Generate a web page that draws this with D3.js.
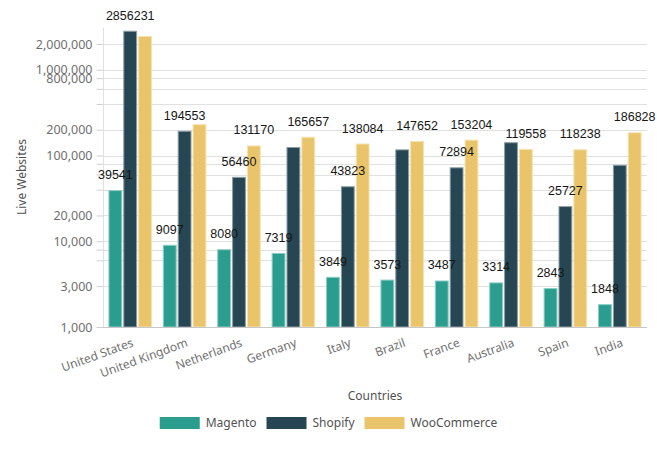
<!DOCTYPE html>
<html><head><meta charset="utf-8">
<script src="https://cdn.jsdelivr.net/npm/d3@7"></script>
<style>
body{margin:0;background:#fff;}
svg{display:block;}
</style></head>
<body><svg id="chart" width="657" height="450"></svg>
<script>
const countries = ["United States","United Kingdom","Netherlands","Germany","Italy","Brazil","France","Australia","Spain","India"];
const seriesNames = ["Magento","Shopify","WooCommerce"];
const magento = [39541, 9097, 8080, 7319, 3849, 3573, 3487, 3314, 2843, 1848];
const shopify = [2856231, 194553, 56460, 126000, 43823, 118000, 72894, 143000, 25727, 78000];
const woocommerce = [2480000, 232000, 131170, 165657, 138084, 147652, 153204, 119558, 118238, 186828];
const gridTicks = [1000, 3000, 6000, 8000, 10000, 20000, 40000, 60000, 80000, 100000, 200000, 400000, 600000, 800000, 1000000, 2000000];
const labeledTicks = [1000, 3000, 10000, 20000, 100000, 200000, 800000, 1000000, 2000000];
const hiddenLabels = ["United States|WooCommerce","United Kingdom|WooCommerce","Germany|Shopify","Brazil|Shopify","Australia|Shopify","India|Shopify"];

const colors = {Magento:"#2a9d8f", Shopify:"#264653", WooCommerce:"#e9c46a"};
const strokes = {Magento:"#8ccdc4", Shopify:"#8c9da3", WooCommerce:"#f4e2b0"};
const valuesBySeries = {Magento: magento, Shopify: shopify, WooCommerce: woocommerce};

const svg = d3.select("#chart");
const left = 103, right = 647, bottom = 327;
const x0 = d3.scaleBand().domain(countries).range([left, right]).paddingInner(0.2).paddingOuter(0.1);
const x1 = d3.scaleBand().domain(seriesNames).range([0, x0.bandwidth()]).paddingInner(0.07);
const y = d3.scaleLog().domain([1000, 2000000]).range([bottom, 44]);
const fmt = d3.format(",");
const tickFont = "'Noto Sans', 'Open Sans', sans-serif";

// gridlines
svg.append("g").selectAll("line").data(gridTicks.filter(t => t > 1000)).join("line")
  .attr("x1", left).attr("x2", right)
  .attr("y1", d => Math.round(y(d)) + 0.5).attr("y2", d => Math.round(y(d)) + 0.5)
  .attr("stroke", "#e0e0e0").attr("stroke-width", 1);

// y axis
const yAxis = d3.axisLeft(y).tickValues(gridTicks).tickSize(7).tickPadding(4)
  .tickFormat(d => labeledTicks.includes(d) ? fmt(d) : "");
const yg = svg.append("g").attr("transform", `translate(${left + 0.5},0)`).call(yAxis);
yg.select(".domain").remove();
yg.selectAll(".tick line").attr("stroke", "#d0d0d0");
yg.selectAll(".tick text").attr("fill", "#6f6f6f").style("font-family", tickFont).style("font-size", "12.5px");
svg.append("line").attr("x1", left + 0.5).attr("x2", left + 0.5).attr("y1", y(3100000)).attr("y2", bottom)
  .attr("stroke", "#e0e0e0");

// bars
const groups = svg.append("g").selectAll("g").data(countries).join("g")
  .attr("transform", d => `translate(${x0(d)},0)`);
groups.selectAll("rect").data((c, i) => seriesNames.map(s => ({s, c, v: valuesBySeries[s][i]}))).join("rect")
  .attr("x", d => x1(d.s) + 0.5)
  .attr("y", d => y(d.v) + 0.5)
  .attr("width", x1.bandwidth() - 1)
  .attr("height", d => bottom - y(d.v) - 0.5)
  .attr("fill", d => colors[d.s])
  .attr("stroke", d => strokes[d.s]).attr("stroke-width", 1);

// value labels
groups.selectAll("text.val").data((c, i) => seriesNames.map(s => ({s, c, v: valuesBySeries[s][i]}))
    .filter(d => !hiddenLabels.includes(d.c + "|" + d.s)))
  .join("text").attr("class", "val")
  .attr("x", d => x1(d.s) + x1.bandwidth() / 2)
  .attr("y", d => y(d.v) - 11)
  .attr("text-anchor", "middle")
  .attr("fill", "#161616")
  .style("font-family", "'Liberation Sans', Arial, sans-serif").style("font-size", "12.5px")
  .text(d => d.v);

// x axis baseline
svg.append("line").attr("x1", left).attr("x2", right).attr("y1", bottom + 0.5).attr("y2", bottom + 0.5)
  .attr("stroke", "#c6c6c6");

// x labels
svg.append("g").selectAll("text").data(countries).join("text")
  .attr("transform", d => `translate(${x0(d) + x0.bandwidth() / 2 + 4},${bottom + 19}) rotate(-20)`)
  .attr("text-anchor", "end")
  .attr("fill", "#6f6f6f")
  .style("font-family", tickFont).style("font-size", "12px")
  .text(d => d);

// axis titles
svg.append("text").attr("x", (left + right) / 2).attr("y", 400).attr("text-anchor", "middle")
  .attr("fill", "#525252").style("font-family", tickFont).style("font-size", "12px").text("Countries");
svg.append("text").attr("transform", "translate(26,177) rotate(-90)").attr("text-anchor", "middle")
  .attr("fill", "#525252").style("font-family", tickFont).style("font-size", "12px").text("Live Websites");

// legend
const legend = svg.append("g");
let lx = 0;
seriesNames.forEach((s, i) => {
  const g = legend.append("g").attr("transform", `translate(${lx},0)`);
  g.append("rect").attr("x", 0).attr("y", 417).attr("width", 40).attr("height", 12).attr("fill", colors[s]);
  const t = g.append("text").attr("x", 46).attr("y", 427).attr("fill", "#525252")
    .style("font-family", tickFont).style("font-size", "12px").text(s);
  lx += 46 + t.node().getComputedTextLength() + 10;
});
const lw = lx - 10;
legend.attr("transform", `translate(${(657 - lw) / 2},0)`);
</script></body></html>
